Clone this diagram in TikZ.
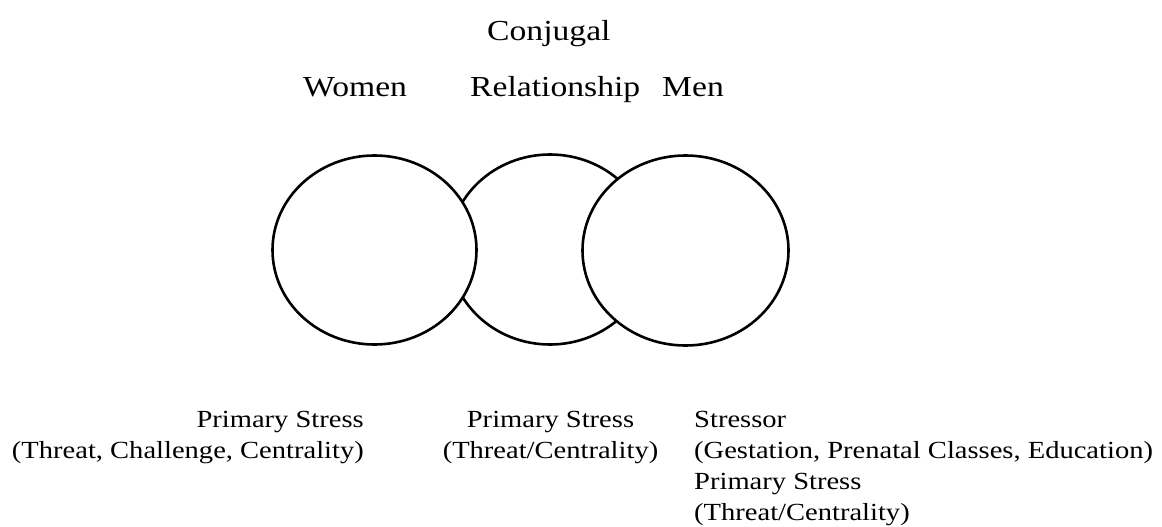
\documentclass[tikz,border=0pt]{standalone}
\usepackage{fontspec}
\setmainfont{Liberation Serif}[FakeStretch=1.16]
\usetikzlibrary{shapes.geometric}
\begin{document}
\begin{tikzpicture}[x=1pt,y=-1pt,
  ring/.style={ellipse, draw=black, line width=2.6pt, fill=white, inner sep=0pt},
  headlabel/.style={anchor=base west, inner sep=0pt, font=\fontsize{29}{35}\selectfont},
  notelabel/.style={inner sep=0pt, font=\fontsize{24.6}{31}\selectfont}]
  \useasboundingbox (0,0) rectangle (1162,527);

  % headings
  \node[headlabel] (conj) at (487,41) {Conjugal};
  \node[headlabel] (women) at (303,96) {Women};
  \node[headlabel] (rel) at (470,96) {Relationship};
  \node[headlabel] (men) at (662,96) {Men};

  % overlapping circles: the middle one sits behind the two outer ones
  \node[ring, minimum width=202pt, minimum height=190pt] (mid) at (550,249.5) {};
  \node[ring, minimum width=204pt, minimum height=189pt] (left) at (374.5,250) {};
  \node[ring, minimum width=206pt, minimum height=190pt] (right) at (685.5,250.5) {};

  % notes below the circles
  \node[notelabel, anchor=base east] (noteW) at (364,427)
    {\begin{tabular}[t]{@{}r@{}}Primary Stress\\(Threat, Challenge, Centrality)\end{tabular}};
  \node[notelabel, anchor=base] (noteR) at (550.5,427)
    {\begin{tabular}[t]{@{}c@{}}Primary Stress\\(Threat/Centrality)\end{tabular}};
  \node[notelabel, anchor=base west] (noteM) at (694,427)
    {\begin{tabular}[t]{@{}l@{}}Stressor\\(Gestation, Prenatal Classes, Education)\\Primary Stress\\(Threat/Centrality)\end{tabular}};
\end{tikzpicture}
\end{document}
